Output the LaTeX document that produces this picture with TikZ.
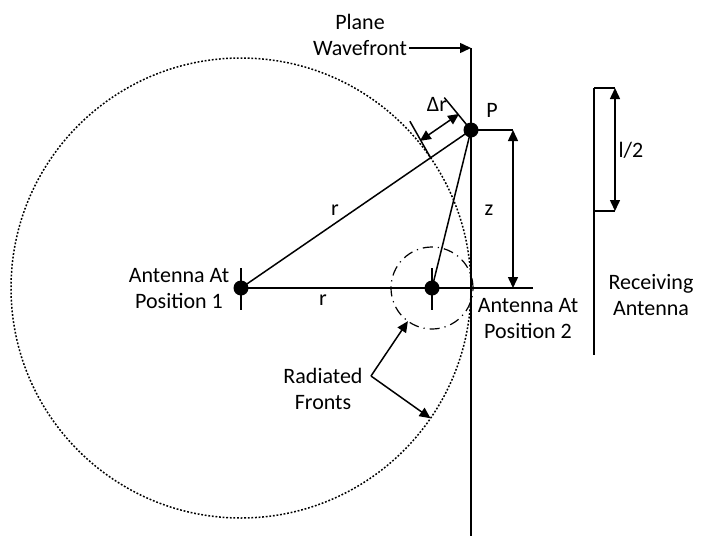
\documentclass[tikz,border=0pt]{standalone}
\usepackage{fontspec}
\setmainfont{Carlito}
\usetikzlibrary{arrows.meta, positioning, calc}

\begin{document}
\begin{tikzpicture}[
    x=0.5pt, y=-0.5pt,
    every node/.style={font=\fontsize{11}{13}\selectfont, align=center, inner sep=1pt},
    wire/.style={line width=0.75pt, black},
    arrow/.style={wire, -{Triangle[length=5.5pt, width=5pt]}},
    dblarrow/.style={wire, {Triangle[length=5.5pt, width=5pt]}-{Triangle[length=5.5pt, width=5pt]}},
    antdot/.style={circle, fill=black, inner sep=0pt, minimum size=7.5pt},
    farfront/.style={line width=0.75pt, dash pattern=on 0.9pt off 0.9pt},
    nearfront/.style={line width=0.6pt, dash pattern=on 5pt off 2.5pt on 0.6pt off 2.5pt}
]
\useasboundingbox (0,0) rectangle (702,536);

% Antennas and field point
\coordinate (a1) at (241,288);
\coordinate (a2) at (432,288);
\coordinate (P) at (471,130);

% Radiated fronts
\draw[farfront] (a1) circle[radius=115pt];
\draw[nearfront] (a2) circle[radius=20.5pt];

% Plane wavefront
\node (wf) at (360,35) {Plane\\Wavefront};
\coordinate (wftop) at (471,48);
\coordinate (wfbot) at (471,536);
\draw[arrow] (wf.east |- wftop) -- (wftop);
\draw[wire] (wftop) -- (wfbot);

% Geometry
\coordinate (axend) at (533,288);
\draw[wire] (a1) -- (axend);
\draw[wire] (a1) -- (P);
\draw[wire] (a2) -- (P);
\draw[wire] (a1) ++(0,-20) -- ++(0,42);
\draw[wire] (a2) ++(0,-20) -- ++(0,42);

% z distance
\coordinate (zt) at (513,130);
\coordinate (zb) at (513,288);
\draw[wire] (P) -- (zt);
\draw[dblarrow] (zt) -- (zb);

% Delta r
\coordinate (c1) at ($(a1)!115pt!(P)$);
\draw[wire] (c1) -- ($(c1)!21pt!85:(P)$);
\draw[wire] (P) -- ($(P)!21pt!-85:(a1)$);
\draw[dblarrow] ($(c1)!10pt!88:(P)$) -- ($(P)!10pt!-88:(a1)$);

\node[antdot] (dot1) at (a1) {};
\node[antdot] (dot2) at (a2) {};
\node[antdot] (dotP) at (P) {};

% Receiving antenna
\coordinate (rxt) at (594,88);
\coordinate (rxm) at (594,211);
\coordinate (rxb) at (594,355);
\draw[wire] (rxt) -- (rxb);
\draw[wire] (rxt) -- ++(21,0) coordinate (lt);
\draw[wire] (rxm) -- ++(21,0) coordinate (lb);
\draw[dblarrow] (lt) -- (lb);

% Labels
\node (lblP) at (492,110) {P};
\node (lblz) at (489,210) {z};
\node (lbldr) at (437,104) {Δr};
\node (lblr1) at (335,210) {r};
\node (lblr2) at (323,300) {r};
\node (lblhalf) at (631,150) {l/2};
\node (lbla1) at (179,289) {Antenna At\\Position 1};
\node (lbla2) at (528,319) {Antenna At\\Position 2};
\node (lblrx) at (651,295) {Receiving\\Antenna};
\node (lblrf) at (323,389) {Radiated\\Fronts};

\coordinate (rfk) at (371,376);
\draw[arrow] (rfk) -- ($(a2)+(234:20.5pt)$);
\draw[arrow] (rfk) -- ($(a1)+(-34.5:115pt)$);

\end{tikzpicture}
\end{document}
